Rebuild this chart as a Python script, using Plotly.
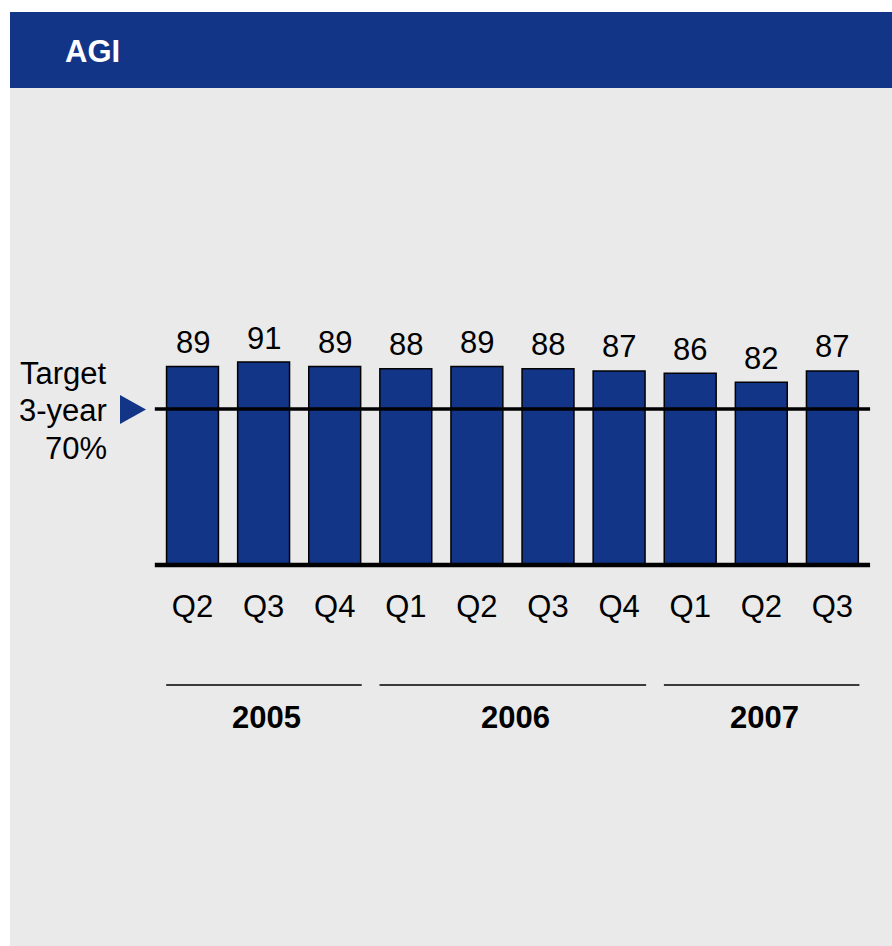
import plotly.graph_objects as go

quarters = ["Q2", "Q3", "Q4", "Q1", "Q2", "Q3", "Q4", "Q1", "Q2", "Q3"]
values = [89, 91, 89, 88, 89, 88, 87, 86, 82, 87]
years = ["2005", "2006", "2007"]
year_spans = [(0, 2), (3, 6), (7, 9)]
target = 70
title = "AGI"
target_lines = ["Target", "3-year", "70%"]

W, H = 892, 946
NAVY = "#123587"
GRAY = "#EAEAEA"
FONT = "Liberation Sans, Arial, sans-serif"
FS = 31

def px(x):
    return x / W

def py(y):
    return 1 - y / H

xpos = list(range(len(values)))

# axis geometry: 71.1 px per category, 2.23 px per unit, zero at y=565, first bar centre at x=192.5
XR = [-0.56, 9.56]
YR = [-3, 100]
x_left = 192.5 + XR[0] * 71.1
x_right = 192.5 + XR[1] * 71.1
y_bot = 565 - YR[0] * 2.23
y_top = 565 - YR[1] * 2.23

fig = go.Figure()
fig.add_trace(go.Bar(
    x=xpos, y=values, width=0.73,
    marker=dict(color=NAVY, line=dict(color="black", width=1.5)),
    hoverinfo="skip", showlegend=False,
))

annotations = []
for i, v in enumerate(values):
    annotations.append(dict(x=i, y=v, xref="x", yref="y", text=str(v), showarrow=False,
                            yanchor="middle", yshift=24,
                            font=dict(size=FS, color="black", family=FONT)))

shapes = []
shapes.append(dict(type="rect", xref="paper", yref="paper", x0=px(10), x1=px(W), y0=py(H), y1=py(88),
                   fillcolor=GRAY, line=dict(width=0), layer="below"))
shapes.append(dict(type="rect", xref="paper", yref="paper", x0=px(10), x1=px(W), y0=py(88), y1=py(12),
                   fillcolor=NAVY, line=dict(width=0), layer="below"))
annotations.append(dict(x=px(63), y=py(52), xref="paper", yref="paper", text="<b>" + title + "</b>",
                        showarrow=False, xanchor="left", yanchor="middle",
                        font=dict(size=FS, color="white", family=FONT)))

shapes.append(dict(type="line", xref="x", yref="y", x0=-0.53, x1=9.53, y0=target, y1=target,
                   line=dict(color="black", width=3.5), layer="above"))
shapes.append(dict(type="line", xref="x", yref="y", x0=-0.53, x1=9.53, y0=0, y1=0,
                   line=dict(color="black", width=4.5), layer="above"))

shapes.append(dict(type="path", xref="paper", yref="paper",
                   path=f"M {px(120)},{py(395)} L {px(146)},{py(409.5)} L {px(120)},{py(424)} Z",
                   fillcolor=NAVY, line=dict(width=0)))
for t, yy in zip(target_lines, [373, 410, 449]):
    annotations.append(dict(x=px(109), y=py(yy), xref="paper", yref="paper", text=t, showarrow=False,
                            xanchor="right", yanchor="middle",
                            font=dict(size=FS, color="black", family=FONT)))

for yr, (a, b) in zip(years, year_spans):
    shapes.append(dict(type="line", xref="x", yref="paper", x0=a - 0.37, x1=b + 0.38,
                       y0=py(685), y1=py(685), line=dict(color="black", width=1.5)))
    annotations.append(dict(x=(a + b) / 2, y=py(717), xref="x", yref="paper", text="<b>" + yr + "</b>",
                            showarrow=False, yanchor="middle", xshift=3,
                            font=dict(size=FS, color="black", family=FONT)))

fig.update_layout(
    width=W, height=H,
    margin=dict(l=0, r=0, t=0, b=0),
    paper_bgcolor="white", plot_bgcolor="rgba(0,0,0,0)",
    shapes=shapes, annotations=annotations,
    xaxis=dict(domain=[px(x_left), px(x_right)], range=XR, tickmode="array", tickvals=xpos,
               ticktext=quarters, showgrid=False, zeroline=False, showline=False, ticks="",
               ticklabelstandoff=13, tickfont=dict(size=FS, color="black", family=FONT),
               fixedrange=True),
    yaxis=dict(domain=[py(y_bot), py(y_top)], range=YR, showgrid=False, zeroline=False,
               showline=False, showticklabels=False, ticks="", fixedrange=True),
    font=dict(family=FONT, color="black"),
)

fig.write_html("out.html")
